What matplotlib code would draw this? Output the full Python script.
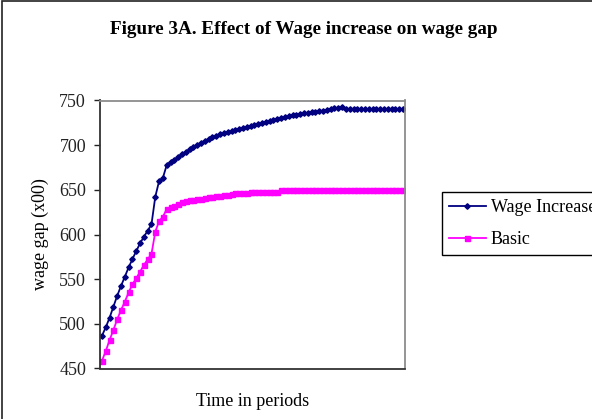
# Figure 3A: wage gap over time, basic run vs. wage increase

import numpy as np
import matplotlib
matplotlib.use("Agg")
import matplotlib.pyplot as plt
from matplotlib.patches import Rectangle

plt.rcParams['font.family'] = ['Liberation Serif', 'DejaVu Serif']

# Wage gap (x00), one value per period
wage_increase = [486.5, 496, 506.7, 519, 531.3, 542.2, 552.6, 563.1, 572.4, 581.4,
                 590, 597.4, 604.2, 611.3, 642.2, 659.8, 663.5, 677.7, 681.4, 683.3,
                 687, 690, 692.6, 695.2, 697.7, 700.2, 702.5, 704.7, 706.8, 708.7,
                 710.3, 712, 713.5, 714.8, 716, 717.2, 718.3, 719.4, 720.5, 721.5,
                 722.8, 723.9, 725.2, 726.4, 727.4, 728.4, 729.4, 730.4, 731.2, 732.3,
                 733.5, 734.2, 734.9, 735.6, 736.3, 737, 737.5, 738.1, 738.8, 739.7,
                 740.5, 741.2, 742, 742.4, 740.5, 740.3, 740.3, 740.3, 740.3, 740.3,
                 740.3, 740.3, 740.3, 740.3, 740.3, 740.3, 740.3, 740.3, 740.3, 740.3]
basic = [458.5, 469.4, 481.7, 492.9, 504.9, 515.3, 524.6, 535.1, 544.1, 550.8,
         558.2, 565.7, 572.1, 578.1, 603, 615, 619.8, 628.5, 630.4, 632.2,
         634.5, 636, 637.3, 638.2, 639, 639.5, 640, 641, 641.6, 642,
         643, 643.4, 644, 644.3, 645.5, 646, 646, 646.2, 646.5, 647.8,
         648, 648, 648, 648, 648, 648, 648, 649.7, 649.7, 649.7,
         649.7, 649.7, 649.7, 649.7, 649.7, 649.7, 649.7, 649.7, 649.7, 649.7,
         649.7, 649.7, 649.7, 649.7, 649.7, 649.7, 649.7, 649.7, 649.7, 649.7,
         649.7, 649.7, 649.7, 649.7, 649.7, 649.7, 649.7, 649.7, 649.7, 649.7]
periods = np.arange(len(basic))
yticks = [450, 500, 550, 600, 650, 700, 750]

fig = plt.figure(figsize=(5.92, 4.19), dpi=100)
W, H = 592, 419

# chart-area border (runs off the right and bottom of the image)
fig.patches.append(Rectangle((1.5 / W, -0.1), 1.2, 1.1 - 1.5 / H,
                             transform=fig.transFigure, fill=False,
                             edgecolor='#222222', linewidth=1.2))

ax = fig.add_axes([100 / W, 1 - 368.5 / H, 305 / W, 268 / H])

l1, = ax.plot(periods, wage_increase, color='#000080', linewidth=1.3,
              marker='D', markersize=2.8, label='Wage Increase')
l2, = ax.plot(periods, basic, color='#FF00FF', linewidth=1.3,
              marker='s', markersize=3.6, label='Basic')

ax.set_xlim(-0.5, len(basic) - 0.5)
ax.set_ylim(450, 750)
ax.set_yticks(yticks)
ax.set_xticks([])
ax.tick_params(axis='y', direction='out', length=4, width=1, pad=6,
               labelsize=13, colors='#222222')

for side in ['left', 'bottom']:
    ax.spines[side].set_color('#333333')
    ax.spines[side].set_linewidth(1.3)
for side in ['right', 'top']:
    ax.spines[side].set_color('#8c8c8c')
    ax.spines[side].set_linewidth(1.3)

ax.set_ylabel('wage gap (x00)', fontsize=13, va='center')
ax.yaxis.set_label_coords(-0.197, 0.5)
ax.set_xlabel('Time in periods', fontsize=13, va='center')
ax.xaxis.set_label_coords(0.5, -0.124)

fig.text(303.5 / W, 1 - 29 / H, 'Figure 3A. Effect of Wage increase on wage gap',
         ha='center', va='center', fontsize=13.8, fontweight='bold')

leg = fig.legend(handles=[l1, l2], loc='upper left',
                 bbox_to_anchor=(441.7 / W, 1 - 192.3 / H), fontsize=13,
                 frameon=True, fancybox=False, edgecolor='black', framealpha=1,
                 borderpad=0.38, labelspacing=0.84, handlelength=2.05,
                 handletextpad=0.28, borderaxespad=0)
leg.get_frame().set_linewidth(1.0)

plt.savefig('out.png', dpi=100)
